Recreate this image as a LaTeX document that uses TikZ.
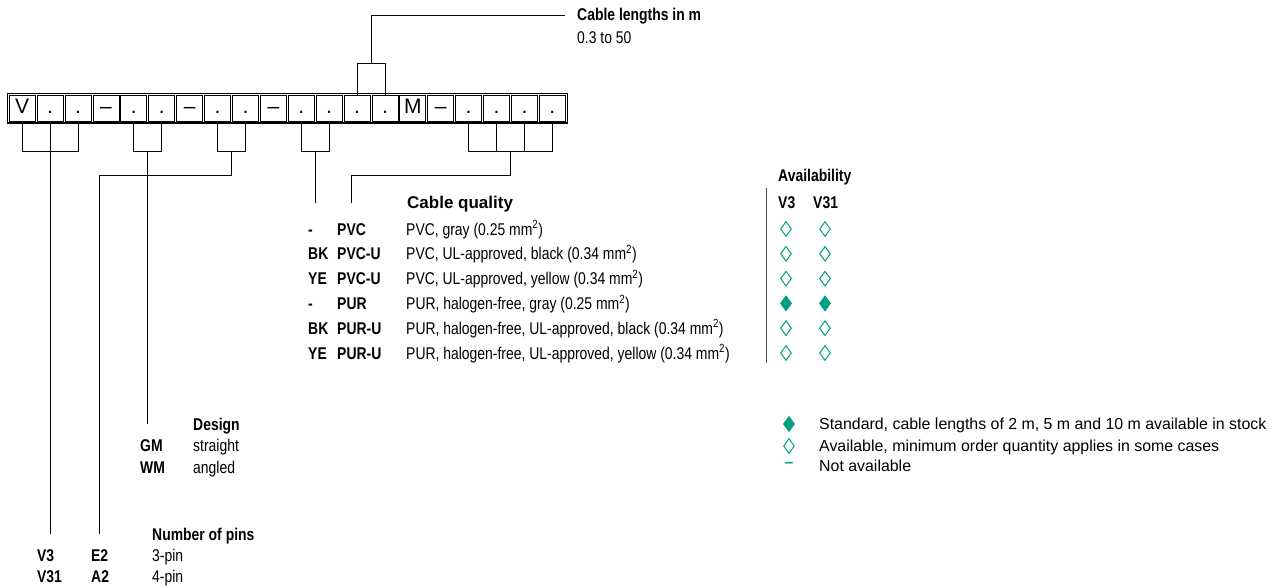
\documentclass[tikz,border=0pt]{standalone}
\usepackage{fontspec}
\setmainfont{Liberation Sans}
\newfontfamily\narrowsf[FakeStretch=0.82]{Liberation Sans}
\usetikzlibrary{positioning, calc, shapes.geometric}
\definecolor{availgreen}{RGB}{0,158,130}

\begin{document}
\begin{tikzpicture}[
  x=1pt, y=-1pt,
  cell/.style={rectangle, draw, line width=0.9pt, minimum width=26pt, minimum height=25.5pt, inner sep=0pt, text height=15pt, text depth=5.2pt, font=\fontsize{21}{24}\selectfont},
  link/.style={line width=0.9pt},
  lbl/.style={anchor=west, inner sep=0pt, text height=12pt, text depth=0pt, font=\narrowsf\fontsize{17}{20}\selectfont},
  heading/.style={lbl, font=\narrowsf\bfseries\fontsize{17}{20}\selectfont},
  codetxt/.style={heading},
  legendtxt/.style={anchor=west, inner sep=0pt, text height=11.4pt, text depth=0pt, font=\fontsize{15.9}{19}\selectfont},
  availopen/.style={diamond, draw=availgreen, fill=white, line width=1pt, inner sep=0pt, minimum width=11pt, minimum height=15pt}
]
\useasboundingbox (0,0) rectangle (1282,588);

% Order code
\foreach \s [count=\i] in {V,{.},{.},\textendash,{.},{.},\textendash,{.},{.},\textendash,{.},{.},{.},{.},M,\textendash,{.},{.},{.},{.}}
  \node[cell] (c\i) at ({8.3+27.9*(\i-0.5)},108.4) {\s};
\draw[line width=1.4pt] ($(c1.north west)+(-1.4,-1.4)$) rectangle ($(c20.south east)+(1.4,1.4)$);

% Cable lengths
\node[heading] (lenhead) at (577,15) {Cable lengths in m};
\node[lbl] (lenval) at (577,38) {0.3 to 50};

% Cable quality
\node[lbl, font=\bfseries\fontsize{17}{20}\selectfont] (cqhead) at (407,203) {Cable quality};
\foreach \pre/\code/\desc/\mk [count=\r] in {
  -/PVC/{PVC, gray (0.25 mm\textsuperscript{2})}/white,
  BK/PVC-U/{PVC, UL-approved, black (0.34 mm\textsuperscript{2})}/white,
  YE/PVC-U/{PVC, UL-approved, yellow (0.34 mm\textsuperscript{2})}/white,
  -/PUR/{PUR, halogen-free, gray (0.25 mm\textsuperscript{2})}/availgreen,
  BK/PUR-U/{PUR, halogen-free, UL-approved, black (0.34 mm\textsuperscript{2})}/white,
  YE/PUR-U/{PUR, halogen-free, UL-approved, yellow (0.34 mm\textsuperscript{2})}/white}
{
  \node[codetxt] (pre\r) at (308,{229+24.8*(\r-1)}) {\pre};
  \node[codetxt] (code\r) at (337,{229+24.8*(\r-1)}) {\code};
  \node[lbl] (desc\r) at (406,{229+24.8*(\r-1)}) {\desc};
  \node[availopen, fill=\mk] (avthree\r) at (786,{229+24.8*(\r-1)}) {};
  \node[availopen, fill=\mk] (avthirty\r) at (825,{229+24.8*(\r-1)}) {};
}

% Availability
\node[heading] (avhead) at (778,176) {Availability};
\node[heading] (avvthree) at (778,202) {V3};
\node[heading] (avvthirty) at (813,202) {V31};
\draw[line width=0.9pt, black!70] (766,188) -- (766,363);

% Key
\node[availopen, fill=availgreen] (keyfull) at (789,424) {};
\node[availopen] (keyopen) at (789,446) {};
\node[text=availgreen, inner sep=0pt, font=\bfseries\fontsize{16}{18}\selectfont] (keynone) at (789,465) {\textendash};
\node[legendtxt] (keyfulltxt) at (819,424) {Standard, cable lengths of 2 m, 5 m and 10 m available in stock};
\node[legendtxt] (keyopentxt) at (819,446) {Available, minimum order quantity applies in some cases};
\node[legendtxt] (keynonetxt) at (819,466) {Not available};

% Design
\node[heading] (dhead) at (193,424) {Design};
\node[codetxt] (gm) at (140,445) {GM};
\node[lbl] (gmtxt) at (193,445) {straight};
\node[codetxt] (wm) at (140,467) {WM};
\node[lbl] (wmtxt) at (193,467) {angled};

% Number of pins
\node[heading] (pinhead) at (152,534) {Number of pins};
\node[codetxt] (v3) at (37,555) {V3};
\node[codetxt] (v31) at (37,576) {V31};
\node[codetxt] (e2) at (91,555) {E2};
\node[codetxt] (a2) at (91,576) {A2};
\node[lbl] (pinthree) at (152,555) {3-pin};
\node[lbl] (pinfour) at (152,576) {4-pin};

% Brackets
\draw[link] (c1.south) -- ++(0,30) -| (c3.south);
\draw[link] (c2.south) -- (c2.south |- pinhead.west);

\draw[link] (c5.south) -- ++(0,30) -| (c6.south);
\coordinate (mB) at ($(c5.south)!.5!(c6.south)+(0,30)$);
\draw[link] (mB) -- (mB |- dhead.west);

\draw[link] (c8.south) -- ++(0,30) -| (c9.south);
\coordinate (mC) at ($(c8.south)!.5!(c9.south)+(0,30)$);
\draw[link] (mC) -- ++(0,24) -| (e2.north |- pinhead.west);

\draw[link] (c11.south) -- ++(0,30) -| (c12.south);
\coordinate (mD) at ($(c11.south)!.5!(c12.south)+(0,30)$);
\draw[link] (mD) -- (mD |- cqhead.west);

\draw[link] (c17.south) -- ++(0,30) -| (c20.south);
\draw[link] (c18.south) -- ++(0,30);
\draw[link] (c19.south) -- ++(0,30);
\coordinate (mE) at ($(c18.south)!.5!(c19.south)+(0,30)$);
\draw[link] (mE) -- ++(0,24) -| (code1.north |- cqhead.west);

\draw[link] (c13.north) -- ++(0,-32) -| (c14.north);
\coordinate (mT) at ($(c13.north)!.5!(c14.north)+(0,-32)$);
\draw[link, shorten >=12pt] (mT) |- (lenhead.west);

\end{tikzpicture}
\end{document}
